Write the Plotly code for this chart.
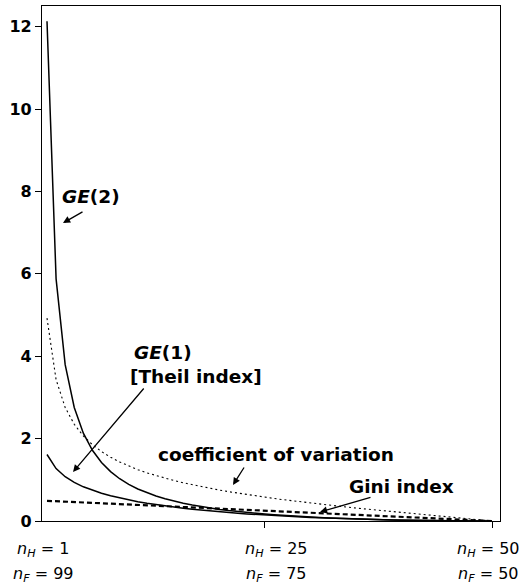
import plotly.graph_objects as go

# n_H (number in group H), n_F = 100 - n_H
n_h = list(range(1, 51))

ge2 = [12.13, 5.878, 3.795, 2.755, 2.132, 1.716, 1.420, 1.198, 1.026, 0.889,
       0.777, 0.684, 0.605, 0.538, 0.480, 0.430, 0.386, 0.347, 0.312, 0.281,
       0.253, 0.228, 0.206, 0.185, 0.167, 0.150, 0.134, 0.120, 0.107, 0.095,
       0.084, 0.074, 0.065, 0.057, 0.050, 0.043, 0.036, 0.031, 0.025, 0.021,
       0.017, 0.013, 0.010, 0.007, 0.005, 0.003, 0.002, 0.001, 0.0002, 0.0]

theil = [1.614, 1.273, 1.075, 0.937, 0.830, 0.745, 0.673, 0.611, 0.558, 0.511,
         0.469, 0.431, 0.397, 0.365, 0.337, 0.310, 0.286, 0.263, 0.243, 0.223,
         0.205, 0.188, 0.172, 0.158, 0.144, 0.131, 0.119, 0.108, 0.097, 0.087,
         0.078, 0.069, 0.061, 0.054, 0.047, 0.041, 0.035, 0.030, 0.025, 0.020,
         0.016, 0.013, 0.010, 0.007, 0.005, 0.003, 0.002, 0.001, 0.0002, 0.0]

cv = [4.925, 3.429, 2.755, 2.347, 2.065, 1.853, 1.685, 1.548, 1.433, 1.333,
      1.246, 1.169, 1.100, 1.037, 0.980, 0.927, 0.879, 0.833, 0.790, 0.750,
      0.712, 0.676, 0.642, 0.609, 0.577, 0.547, 0.518, 0.490, 0.463, 0.436,
      0.411, 0.386, 0.362, 0.338, 0.314, 0.292, 0.269, 0.247, 0.226, 0.204,
      0.183, 0.162, 0.141, 0.121, 0.100, 0.080, 0.060, 0.040, 0.020, 0.0]

gini = [0.49, 0.48, 0.47, 0.46, 0.45, 0.44, 0.43, 0.42, 0.41, 0.40,
        0.39, 0.38, 0.37, 0.36, 0.35, 0.34, 0.33, 0.32, 0.31, 0.30,
        0.29, 0.28, 0.27, 0.26, 0.25, 0.24, 0.23, 0.22, 0.21, 0.20,
        0.19, 0.18, 0.17, 0.16, 0.15, 0.14, 0.13, 0.12, 0.11, 0.10,
        0.09, 0.08, 0.07, 0.06, 0.05, 0.04, 0.03, 0.02, 0.01, 0.0]

y_ticks = [0, 2, 4, 6, 8, 10, 12]
x_labels = [("<i>n</i><sub><i>H</i></sub> = 1", "<i>n</i><sub><i>F</i></sub> = 99"),
            ("<i>n</i><sub><i>H</i></sub> = 25", "<i>n</i><sub><i>F</i></sub> = 75"),
            ("<i>n</i><sub><i>H</i></sub> = 50", "<i>n</i><sub><i>F</i></sub> = 50")]

FONT = "DejaVu Sans, Verdana, sans-serif"
W, H = 521, 587
L, R, T, B = 42, 21, 6, 66
X0, X1 = 0.449, 50.88
Y0, Y1 = 0.0, 12.5
pw, ph = W - L - R, H - T - B


def px2x(px):
    return X0 + (px - L) / pw * (X1 - X0)


def py2y(py):
    return Y1 - (py - T) / ph * (Y1 - Y0)


fig = go.Figure()
fig.add_trace(go.Scatter(x=n_h, y=ge2, mode="lines", line=dict(color="black", width=1.5)))
fig.add_trace(go.Scatter(x=n_h, y=theil, mode="lines", line=dict(color="black", width=1.5)))
fig.add_trace(go.Scatter(x=n_h, y=cv, mode="lines",
                         line=dict(color="black", width=1.1, dash="2px,3px")))
fig.add_trace(go.Scatter(x=n_h, y=gini, mode="lines",
                         line=dict(color="black", width=2.2, dash="5px,3px")))

ann = []
# text labels
texts = [
    ("<b><i>GE</i>(2)</b>", 91, 196, "center"),
    ("<b><i>GE</i>(1)</b>", 163, 352, "center"),
    ("<b>[Theil index]</b>", 128, 376, "left"),
    ("<b>coefficient of variation</b>", 276, 454, "center"),
    ("<b>Gini index</b>", 401, 486, "center"),
]
for t, px, py, al in texts:
    ann.append(dict(text=t, x=px2x(px), y=py2y(py), xref="x", yref="y",
                    xanchor=al, yanchor="middle", showarrow=False,
                    font=dict(family=FONT, size=18.5, color="black")))

# arrows (tail -> head)
arrows = [
    ((84, 211), (63, 223)),
    ((145, 387), (73, 472)),
    ((245, 466), (233, 485)),
    ((372, 497), (320, 512)),
]
for (tx, ty), (hx, hy) in arrows:
    ann.append(dict(text="", x=px2x(hx), y=py2y(hy), ax=px2x(tx), ay=py2y(ty),
                    xref="x", yref="y", axref="x", ayref="y", showarrow=True,
                    arrowhead=2, arrowsize=1.1, arrowwidth=1.3, arrowcolor="black"))

# x-axis category labels
label_pos = [(43, "center"), (276, "center"), (488, "center")]
for (l1, l2), (px, al) in zip(x_labels, label_pos):
    for lab, py in ((l1, 549), (l2, 574)):
        ann.append(dict(text=lab, x=(px - L) / pw, y=(H - B - py) / ph,
                        xref="paper", yref="paper", xanchor=al, yanchor="middle",
                        showarrow=False, font=dict(family=FONT, size=16, color="black")))

fig.update_layout(
    width=W, height=H,
    margin=dict(l=L, r=R, t=T, b=B),
    paper_bgcolor="white", plot_bgcolor="white",
    showlegend=False,
    annotations=ann,
    xaxis=dict(range=[X0, X1], showgrid=False, zeroline=False,
               showline=True, linecolor="black", linewidth=1.3, mirror=True,
               ticks="outside", tickvals=[25, 50], ticklen=6, tickwidth=1.3,
               tickcolor="black", showticklabels=False),
    yaxis=dict(range=[Y0, Y1], showgrid=False, zeroline=False,
               showline=True, linecolor="black", linewidth=1.3, mirror=True,
               ticks="outside", tickvals=y_ticks, ticklen=6, tickwidth=1.3,
               tickcolor="black",
               tickfont=dict(family=FONT, size=16, color="black", weight="bold")),
)

fig.write_html("out.html")
